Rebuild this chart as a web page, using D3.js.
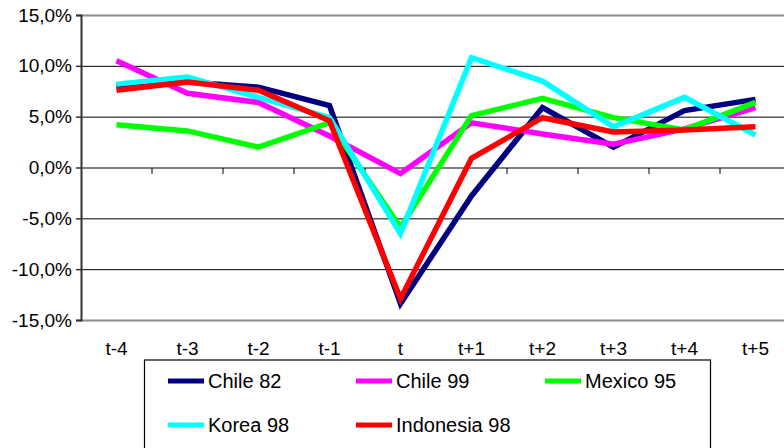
<!DOCTYPE html>
<html>
<head>
<meta charset="utf-8">
<script src="https://cdn.jsdelivr.net/npm/d3@7"></script>
<style>
  html, body { margin: 0; padding: 0; background: #fff; }
  svg { display: block; font-family: Arial, "Liberation Sans", sans-serif; }
</style>
</head>
<body>
<svg id="chart" width="784" height="448"></svg>
<script>
// Periods around the crisis year t
const periods = ["t-4", "t-3", "t-2", "t-1", "t", "t+1", "t+2", "t+3", "t+4", "t+5"];

// Growth rates (%) per episode
const chile82     = [8.0, 8.4, 7.9, 6.1, -13.4, -2.8, 5.9, 2.0, 5.6, 6.7];
const chile99     = [10.5, 7.3, 6.4, 3.1, -0.6, 4.4, 3.3, 2.3, 3.8, 5.9];
const mexico95    = [4.2, 3.6, 2.0, 4.4, -5.9, 5.1, 6.8, 4.9, 3.7, 6.4];
const korea98     = [8.2, 8.9, 6.9, 4.9, -6.5, 10.8, 8.5, 4.0, 6.9, 3.2];
const indonesia98 = [7.6, 8.4, 7.6, 4.6, -12.9, 0.9, 4.9, 3.5, 3.7, 4.0];

const seriesNames  = ["Chile 82", "Chile 99", "Mexico 95", "Korea 98", "Indonesia 98"];
const seriesColors = ["#000080", "#FF00FF", "#00FF00", "#00FFFF", "#FF0000"];
const seriesValues = [chile82, chile99, mexico95, korea98, indonesia98];

const yTicks = [-15, -10, -5, 0, 5, 10, 15];

const svg = d3.select("#chart");
const fmt = v => d3.format(".1f")(v).replace(".", ",").replace("−", "-") + "%";

const plot = { left: 81, right: 791, top: 15, bottom: 320 };

const x = d3.scaleBand().domain(periods).range([plot.left, plot.right]).padding(0);
const y = d3.scaleLinear().domain([-15, 15]).range([plot.bottom, plot.top]);

// Horizontal gridlines
svg.append("g")
  .selectAll("line")
  .data(yTicks)
  .join("line")
  .attr("x1", plot.left).attr("x2", plot.right)
  .attr("y1", d => y(d) + 0.5).attr("y2", d => y(d) + 0.5)
  .attr("stroke", d => (d === 15 || d === -15) ? "#8c8c8c" : "#000")
  .attr("stroke-width", d => (d === 15 || d === -15) ? 2 : 1);

// Value axis on the left
const yAxis = svg.append("g")
  .attr("transform", `translate(${plot.left},0)`)
  .call(d3.axisLeft(y).tickValues(yTicks).tickFormat(fmt).tickSize(5).tickPadding(4));
yAxis.select(".domain").attr("stroke", "#333").attr("stroke-width", 2);
yAxis.selectAll(".tick line").attr("stroke", "#333").attr("stroke-width", 1.5);
yAxis.selectAll(".tick text")
  .attr("font-size", "19px")
  .attr("fill", "#000")
  .attr("font-family", "Arial, 'Liberation Sans', sans-serif");

// Category axis along the zero line, ticks between categories
const xAxisG = svg.append("g").attr("transform", `translate(0,${y(0) + 0.5})`);
xAxisG.selectAll("line.tick")
  .data(periods)
  .join("line")
  .attr("class", "tick")
  .attr("x1", d => x(d) + x.bandwidth())
  .attr("x2", d => x(d) + x.bandwidth())
  .attr("y1", 0).attr("y2", 6)
  .attr("stroke", "#000").attr("stroke-width", 1);

// Category labels below the plot
svg.append("g")
  .selectAll("text")
  .data(periods)
  .join("text")
  .attr("x", d => x(d) + x.bandwidth() / 2)
  .attr("y", 355)
  .attr("text-anchor", "middle")
  .attr("font-size", "19px")
  .attr("fill", "#000")
  .text(d => d);

// Series lines
const line = d3.line()
  .x((d, i) => x(periods[i]) + x.bandwidth() / 2)
  .y(d => y(d))
  .curve(d3.curveLinear);

svg.append("g")
  .selectAll("path")
  .data(seriesValues)
  .join("path")
  .attr("d", d => line(d))
  .attr("fill", "none")
  .attr("stroke", (d, i) => seriesColors[i])
  .attr("stroke-width", 5.5)
  .attr("stroke-linejoin", "miter");

// Legend
const legend = svg.append("g");
legend.append("rect")
  .attr("x", 144.5).attr("y", 360)
  .attr("width", 566).attr("height", 120)
  .attr("fill", "#fff")
  .attr("stroke", "#000").attr("stroke-width", 1.2);

const colX = [168, 356, 545];
const rowY = [381, 425];
const items = legend.selectAll("g.item")
  .data(seriesNames)
  .join("g")
  .attr("class", "item")
  .attr("transform", (d, i) => `translate(${colX[i % 3]},${rowY[Math.floor(i / 3)]})`);
items.append("line")
  .attr("x1", 0).attr("x2", 36)
  .attr("y1", 0).attr("y2", 0)
  .attr("stroke", (d, i) => seriesColors[i])
  .attr("stroke-width", 5);
items.append("text")
  .attr("x", 40).attr("y", 0)
  .attr("dy", "0.35em")
  .attr("font-size", "20px")
  .attr("fill", "#000")
  .text(d => d);
</script>
</body>
</html>
